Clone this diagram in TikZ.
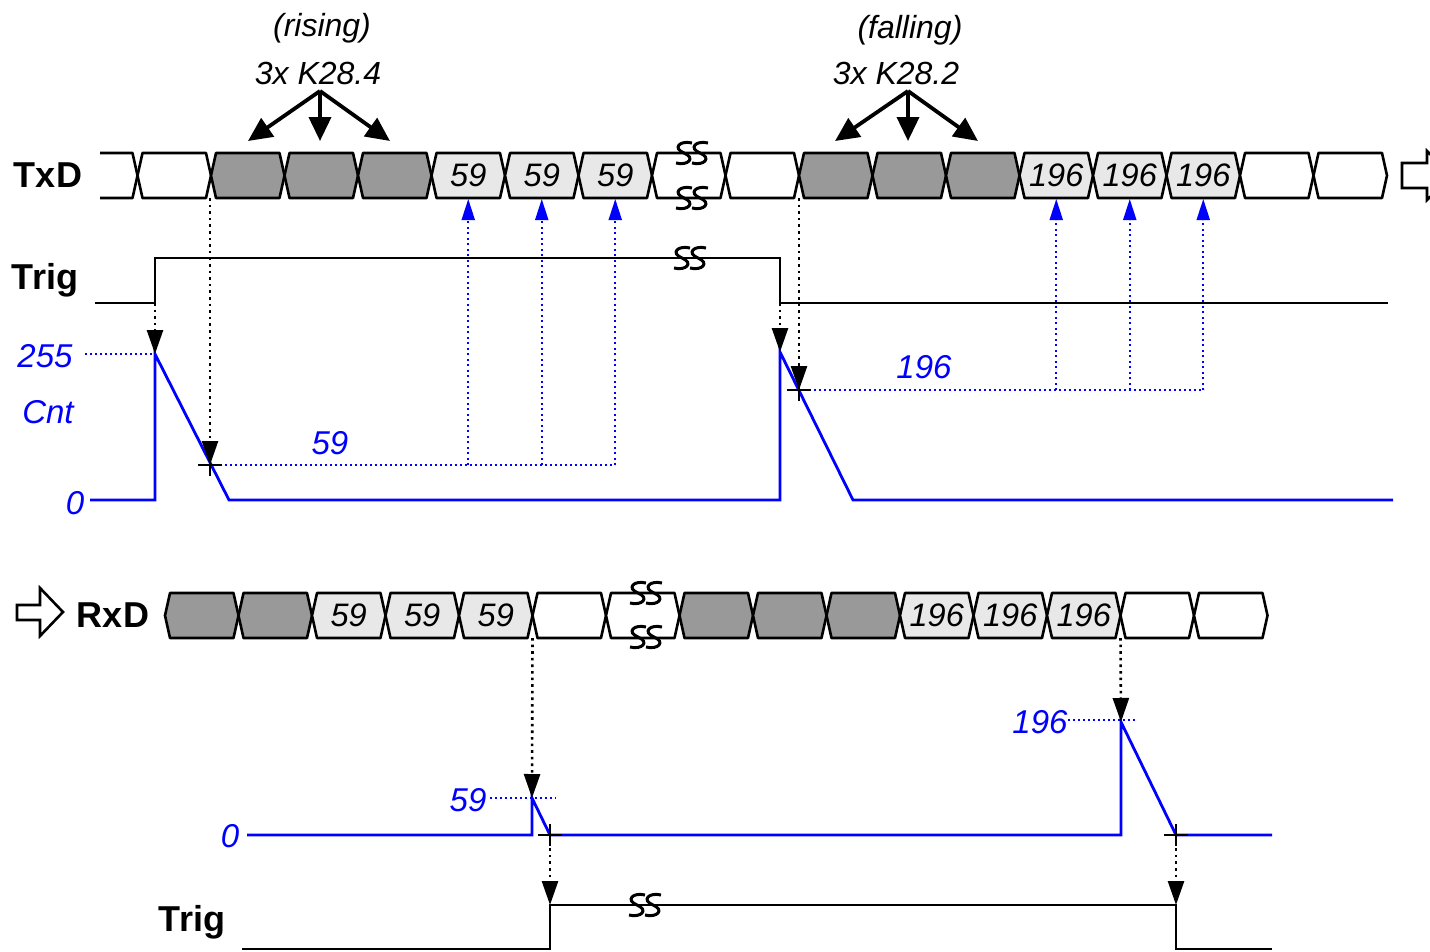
\documentclass[tikz,border=0pt]{standalone}
\usepackage{fontspec}
\setmainfont{Liberation Sans}
\usetikzlibrary{arrows.meta}
\definecolor{dg}{HTML}{999999}
\definecolor{lg}{HTML}{E8E8E8}
\newcommand\bcell[5]{%
  \draw[bus,fill=#3] (#1,#2+22.5) -- (#1+5,#2) -- (#1+68.5,#2) -- (#1+73.5,#2+22.5) -- (#1+68.5,#2+45) -- (#1+5,#2+45) -- cycle;
  \node[celltxt] (#5) at (#1+36.75,#2+22.5) {#4};}
\newcommand\brkmark[2]{%
  \foreach \dx in {-8,8}{
  \draw[brk] (#1+\dx+8,#2-10) .. controls (#1+\dx-4,#2-13) and (#1+\dx-12,#2-5) .. (#1+\dx,#2) .. controls (#1+\dx+12,#2+5) and (#1+\dx+4,#2+13) .. (#1+\dx-8,#2+10);}}
\begin{document}
\begin{tikzpicture}[x=1pt,y=-1pt,
  bus/.style={line width=2.6pt,line join=round},
  sig/.style={line width=2.4pt},
  cnt/.style={line width=2.8pt,blue,line join=miter},
  brk/.style={line width=3pt},
  celltxt/.style={font=\fontsize{32.5}{38}\selectfont\itshape,inner sep=0pt},
  lbl/.style={font=\fontsize{36}{42}\selectfont\bfseries,inner sep=0pt},
  blbl/.style={font=\fontsize{33}{38}\selectfont\itshape,text=blue,inner sep=0pt},
  tlbl/.style={font=\fontsize{32}{38}\selectfont\itshape,inner sep=0pt},
  blkarr/.style={line width=2.6pt,dash pattern=on 2.6pt off 4pt,-{Triangle[length=24pt,width=16pt]}},
  bluarr/.style={line width=2pt,blue,dash pattern=on 2pt off 3.5pt,-{Triangle[length=21pt,width=13pt]}},
  bludot/.style={line width=1.7pt,blue,dash pattern=on 1.7pt off 3.3pt},
  thkarr/.style={line width=3.8pt,-{Triangle[length=24pt,width=22pt]}},
  plus/.style={line width=2.4pt},
  hollow/.style={line width=2.6pt,fill=white,line join=miter}
]
\useasboundingbox (0,0) rectangle (1430,951);
\clip (0,0) rectangle (1430,951);

% ---------- TxD bus ----------
\node[lbl] (txd) at (48,175) {TxD};
\draw[bus] (100,153) -- (132.5,153) -- (137.5,175.5) -- (132.5,198) -- (100,198);
\bcell{137.5}{153}{white}{}{a0}
\bcell{211}{153}{dg}{}{a1}
\bcell{284.5}{153}{dg}{}{a2}
\bcell{358}{153}{dg}{}{a3}
\bcell{431.5}{153}{lg}{59}{a4}
\bcell{505}{153}{lg}{59}{a5}
\bcell{578.5}{153}{lg}{59}{a6}
\bcell{652}{153}{white}{}{a7}
\bcell{725.5}{153}{white}{}{a8}
\bcell{799}{153}{dg}{}{a9}
\bcell{872.5}{153}{dg}{}{a10}
\bcell{946}{153}{dg}{}{a11}
\bcell{1019.5}{153}{lg}{196}{a12}
\bcell{1093}{153}{lg}{196}{a13}
\bcell{1166.5}{153}{lg}{196}{a14}
\bcell{1240}{153}{white}{}{a15}
\bcell{1313.5}{153}{white}{}{a16}
\brkmark{692}{153}
\brkmark{692}{198}
\draw[hollow] (1402,163) -- (1427,163) -- (1427,151) -- (1452,175.5) -- (1427,200) -- (1427,188) -- (1402,188) -- cycle;

% ---------- annotations ----------
\node[tlbl] (ris) at (322,28) {(rising)};
\node[tlbl] (k284) at (318,73) {3x K28.4};
\node[tlbl] (fal) at (910,30) {(falling)};
\node[tlbl] (k282) at (896,73) {3x K28.2};
\coordinate (r0) at (320,91);
\coordinate (f0) at (908,91);
\draw[thkarr] (r0) -- (248,141);
\draw[thkarr] (r0) -- (320,141);
\draw[thkarr] (r0) -- (390,141);
\draw[thkarr] (f0) -- (835,141);
\draw[thkarr] (f0) -- (908,141);
\draw[thkarr] (f0) -- (978,141);

% ---------- Trig (top) ----------
\node[lbl] (trig1) at (45,280) {Trig};
\draw[sig] (95,303) -- (155,303) -- (155,258) -- (780,258) -- (780,303) -- (1388,303);
\brkmark{690}{258}

% ---------- Cnt (top) ----------
\node[blbl] (l255) at (45,356) {255};
\node[blbl] (lcnt) at (48,412) {Cnt};
\node[blbl] (l0a) at (75,503) {0};
\node[blbl] (l59a) at (330,443) {59};
\node[blbl] (l196a) at (924,367) {196};
\coordinate (pk1) at (155,354);
\coordinate (pk2) at (780,352);
\coordinate (x59) at (210,465);
\coordinate (x196) at (799,390);
\draw[bludot] (85,354) -- (pk1);
\draw[bludot] (x59) -- (615,465);
\draw[bludot] (x196) -- (1204,390);
\draw[cnt] (90,500) -- (155,500) -- (pk1) -- (229,500) -- (780,500) -- (pk2) -- (853,500) -- (1393,500);
\draw[plus] (198,465) -- (222,465) (210,454) -- (210,476);
\draw[plus] (787,390) -- (811,390) (799,379) -- (799,401);

\coordinate (tr1) at (155,303);
\coordinate (tf1) at (780,303);
\coordinate (b1) at (210,198);
\coordinate (b2) at (799,198);
\draw[blkarr] (tr1) -- (pk1);
\draw[blkarr] (tf1) -- (pk2);
\draw[blkarr] (b1) -- (x59);
\draw[blkarr] (b2) -- (x196);
\foreach \x in {468.25,541.75,615.25}{\draw[bluarr] (\x,465) -- (\x,199);}
\foreach \x in {1056.25,1129.75,1203.25}{\draw[bluarr] (\x,390) -- (\x,199);}

% ---------- RxD bus ----------
\draw[hollow] (17,605) -- (40,605) -- (40,588) -- (63,612) -- (40,636) -- (40,620) -- (17,620) -- cycle;
\node[lbl] (rxd) at (113,615) {RxD};
\bcell{165}{593}{dg}{}{c0}
\bcell{238.5}{593}{dg}{}{c1}
\bcell{312}{593}{lg}{59}{c2}
\bcell{385.5}{593}{lg}{59}{c3}
\bcell{459}{593}{lg}{59}{c4}
\bcell{532.5}{593}{white}{}{c5}
\bcell{606}{593}{white}{}{c6}
\bcell{679.5}{593}{dg}{}{c7}
\bcell{753}{593}{dg}{}{c8}
\bcell{826.5}{593}{dg}{}{c9}
\bcell{900}{593}{lg}{196}{c10}
\bcell{973.5}{593}{lg}{196}{c11}
\bcell{1047}{593}{lg}{196}{c12}
\bcell{1120.5}{593}{white}{}{c13}
\bcell{1194}{593}{white}{}{c14}
\brkmark{646}{593}
\brkmark{646}{637}

% ---------- Cnt (bottom) ----------
\node[blbl] (l0b) at (230,836) {0};
\node[blbl] (l59b) at (468,800) {59};
\node[blbl] (l196b) at (1040,722) {196};
\coordinate (pk3) at (532,798);
\coordinate (pk4) at (1121,722);
\coordinate (z1) at (550,835);
\coordinate (z2) at (1176,835);
\draw[bludot] (490,798) -- (556,798);
\draw[bludot] (1068,720) -- (1136,720);
\draw[cnt] (247,835) -- (532,835) -- (pk3) -- (z1) -- (1121,835) -- (pk4) -- (z2) -- (1272,835);
\draw[plus] (538,835) -- (562,835) (550,824) -- (550,846);
\draw[plus] (1164,835) -- (1188,835) (1176,824) -- (1176,846);

\coordinate (rb1) at (532.5,638);
\coordinate (rb2) at (1120.5,638);
\coordinate (tr2) at (550,905);
\coordinate (tf2) at (1176,905);
\draw[blkarr] (rb1) -- (pk3);
\draw[blkarr] (rb2) -- (pk4);
\draw[blkarr] (z1) -- (tr2);
\draw[blkarr] (z2) -- (tf2);

% ---------- Trig (bottom) ----------
\node[lbl] (trig2) at (192,922) {Trig};
\draw[sig] (242,949) -- (550,949) -- (tr2) -- (tf2) -- (1176,949) -- (1272,949);
\brkmark{645}{905}
\end{tikzpicture}
\end{document}
